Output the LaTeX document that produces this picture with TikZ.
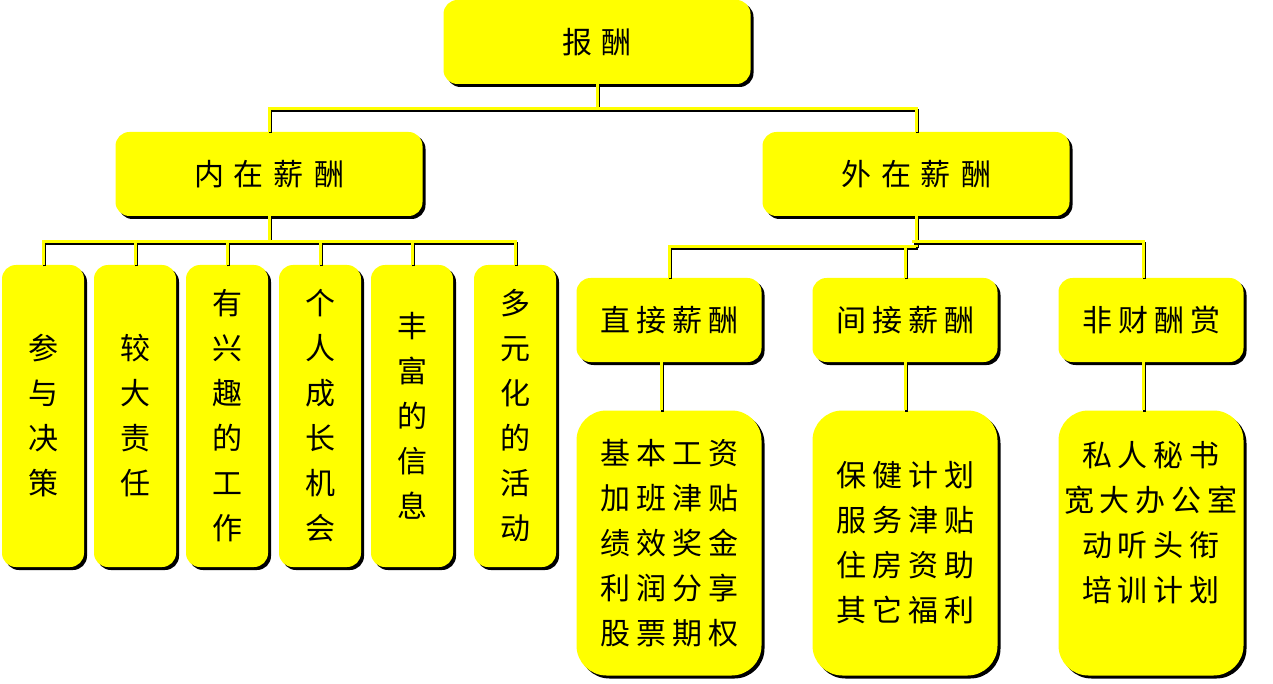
\documentclass[tikz,border=0pt]{standalone}
\usepackage{fontspec}
\newfontfamily\cjk{Noto Sans CJK SC}
\usetikzlibrary{shadows}
\definecolor{yel}{RGB}{255,255,0}
\newcommand\gp{\hspace{6pt}}
\begin{document}
\begin{tikzpicture}[x=1pt,y=-1pt,
  box/.style={fill=yel, rounded corners=14pt, inner sep=0pt, align=center,
    drop shadow={shadow xshift=3pt, shadow yshift=-3pt, fill=black, opacity=1},
    font=\cjk\fontsize{30}{45}\selectfont},
  wide/.style={box, minimum width=307pt, minimum height=84pt},
  tall/.style={box, minimum width=82pt, minimum height=302pt},
  mid/.style={box, minimum width=185pt, minimum height=84pt},
  big/.style={box, rounded corners=30pt, minimum width=185pt, minimum height=265pt},
  txt/.style={inner sep=0pt, align=center, font=\cjk\fontsize{30}{45}\selectfont},
  conn/.style={line width=3pt, draw=yel,
    preaction={draw=black, line width=3pt, transform canvas={shift={(1.5pt,-1.5pt)}}}}]
\useasboundingbox (0,0) rectangle (1273,684);

\node[wide] (root) at (597,42) {报\,\,酬};
\node[wide] (in) at (269,174) {内\,\,在\,\,薪\,\,酬};
\node[wide] (out) at (916,174) {外\,\,在\,\,薪\,\,酬};

\node[tall] (v1) at (43,416) {参\\与\\决\\策};
\node[tall] (v2) at (135,416) {较\\大\\责\\任};
\node[tall] (v3) at (227,416) {有\\兴\\趣\\的\\工\\作};
\node[tall] (v4) at (320,416) {个\\人\\成\\长\\机\\会};
\node[tall] (v5) at (412,416) {丰\\富\\的\\信\\息};
\node[tall] (v6) at (515,416) {多\\元\\化\\的\\活\\动};

\node[mid] (d1) at (669,320) {直\gp 接\gp 薪\gp 酬};
\node[mid] (d2) at (905,320) {间\gp 接\gp 薪\gp 酬};
\node[mid] (d3) at (1151,320) {非\gp 财\gp 酬\gp 赏};

\node[big] (e1) at (669,543) {基\gp 本\gp 工\gp 资\\加\gp 班\gp 津\gp 贴\\绩\gp 效\gp 奖\gp 金\\利\gp 润\gp 分\gp 享\\股\gp 票\gp 期\gp 权};
\node[big] (e2) at (905,543) {保\gp 健\gp 计\gp 划\\服\gp 务\gp 津\gp 贴\\住\gp 房\gp 资\gp 助\\其\gp 它\gp 福\gp 利};
\node[big] (e3) at (1151,543) {};
\node[txt] (e3t) at ([yshift=20pt]e3.center) {私\gp 人\gp 秘\gp 书\\宽\gp 大\gp 办\gp 公\gp 室\\动\gp 听\gp 头\gp 衔\\培\gp 训\gp 计\gp 划};

% level 1
\draw[conn] (root.south) -- (root.south |- 0,109) coordinate (b1);
\draw[conn] (in.north) |- (b1) -| (out.north);

% level 2 left
\draw[conn] (in.south) -- (in.south |- 0,242) coordinate (b2);
\draw[conn] (v1.north) |- (v6.north |- b2) -- (v6.north);
\draw[conn] (v2.north) -- (v2.north |- b2);
\draw[conn] (v3.north) -- (v3.north |- b2);
\draw[conn] (v4.north) -- (v4.north |- b2);
\draw[conn] (v5.north) -- (v5.north |- b2);

% level 2 right
\draw[conn] (out.south) -- (out.south |- 0,247) coordinate (b3);
\draw[conn] (d1.north) |- (b3);
\draw[conn] (d2.north) -- (d2.north |- b3);
\coordinate (d3n) at ([xshift=-8pt]d3.north);
\draw[conn] ([xshift=-4pt]b3 |- 0,242) -| (d3n);

% level 3
\draw[conn] (d1.south -| 661,0) -- (e1.north -| 661,0);
\draw[conn] (d2.south) -- (e2.north);
\draw[conn] ([xshift=-8pt]d3.south) -- ([xshift=-8pt]e3.north);
\end{tikzpicture}
\end{document}
